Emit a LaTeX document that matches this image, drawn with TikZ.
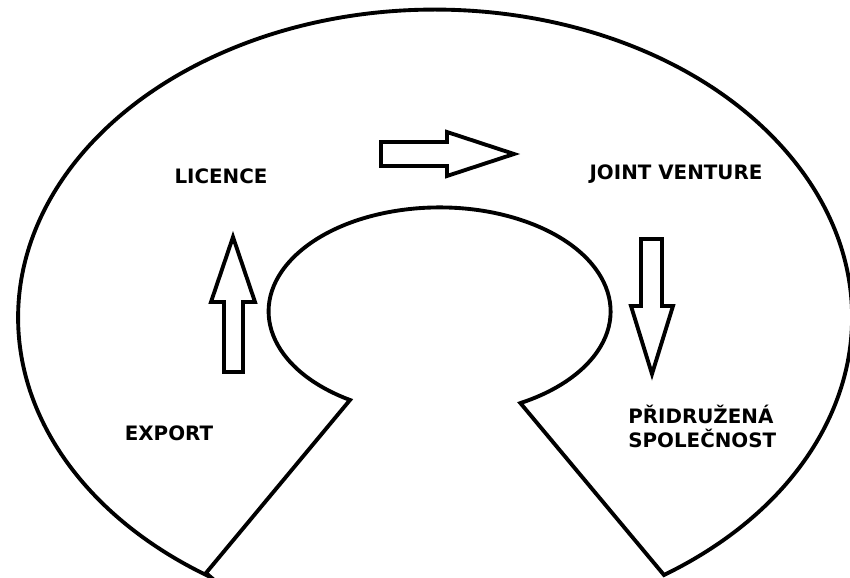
\documentclass[tikz,border=0pt]{standalone}
\usepackage{fontspec}
\setsansfont{DejaVu Sans}
\usepackage{tikz}

\tikzset{
  outline/.style={line width=2.2pt, line join=miter},
  lbl/.style={font=\sffamily\bfseries\fontsize{11.3}{13.6}\selectfont, inner sep=0pt},
}

\begin{document}
\begin{tikzpicture}[x=0.02cm,y=0.02cm]
	\useasboundingbox (0,0) rectangle (850,578);
	% horseshoe
	\draw[outline] (206,5) -- (350,178)
		arc[start angle=238.4, end angle=-61.8, x radius=171, y radius=104]
		-- (664,3)
		arc[start angle=-56.7, end angle=237.5, x radius=417, y radius=308] -- cycle;
	% block arrows
	\draw[outline] (381,412) -- (381,436) -- (447,436) -- (447,446) -- (514,424) -- (447,402) -- (447,412) -- cycle;
	\draw[outline] (224,206) -- (224,276) -- (211,276) -- (233,341) -- (255,276) -- (243,276) -- (243,206) -- cycle;
	\draw[outline] (641,339) -- (662,339) -- (662,272) -- (673,272) -- (652,204) -- (631,272) -- (641,272) -- cycle;
	% labels
	\node[lbl] (licence) at (221,402) {LICENCE};
	\node[lbl] (jv) at (676,404) {JOINT VENTURE};
	\node[lbl] (export) at (169,145) {EXPORT};
	\node[lbl,align=left,anchor=west] (pridruzena) at (628,152) {PŘIDRUŽENÁ\\SPOLEČNOST};
\end{tikzpicture}
\end{document}
